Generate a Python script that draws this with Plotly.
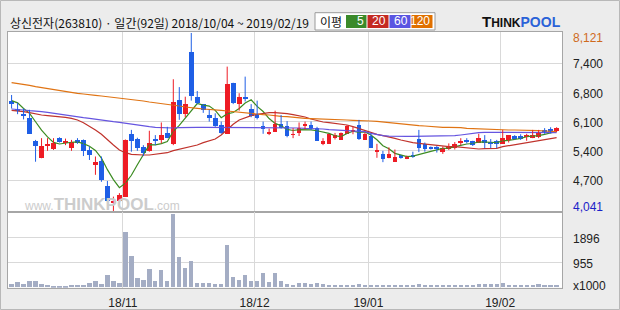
import plotly.graph_objects as go

# ---------------- data ----------------
dates = [
    "2018/10/04", "2018/10/05", "2018/10/08", "2018/10/10", "2018/10/11", "2018/10/12", "2018/10/15",
    "2018/10/16", "2018/10/17", "2018/10/18", "2018/10/19", "2018/10/22", "2018/10/23", "2018/10/24",
    "2018/10/25", "2018/10/26", "2018/10/29", "2018/10/30", "2018/10/31",
    "2018/11/01", "2018/11/02", "2018/11/05", "2018/11/06", "2018/11/07", "2018/11/08", "2018/11/09",
    "2018/11/12", "2018/11/13", "2018/11/14", "2018/11/15", "2018/11/16", "2018/11/19", "2018/11/20",
    "2018/11/21", "2018/11/22", "2018/11/23", "2018/11/26", "2018/11/27", "2018/11/28", "2018/11/29",
    "2018/11/30",
    "2018/12/03", "2018/12/04", "2018/12/05", "2018/12/06", "2018/12/07", "2018/12/10", "2018/12/11",
    "2018/12/12", "2018/12/13", "2018/12/14", "2018/12/17", "2018/12/18", "2018/12/19", "2018/12/20",
    "2018/12/21", "2018/12/24", "2018/12/26", "2018/12/27", "2018/12/28",
    "2019/01/02", "2019/01/03", "2019/01/04", "2019/01/07", "2019/01/08", "2019/01/09", "2019/01/10",
    "2019/01/11", "2019/01/14", "2019/01/15", "2019/01/16", "2019/01/17", "2019/01/18", "2019/01/21",
    "2019/01/22", "2019/01/23", "2019/01/24", "2019/01/25", "2019/01/28", "2019/01/29", "2019/01/30",
    "2019/01/31",
    "2019/02/01", "2019/02/07", "2019/02/08", "2019/02/11", "2019/02/12", "2019/02/13", "2019/02/14",
    "2019/02/15", "2019/02/18", "2019/02/19",
]

opens = [6570, 6380, 6270, 6190, 5650, 5260, 5540, 5470, 5710, 5610,
         5500, 5670, 5670, 5440, 5100, 5190, 4610, 4220, 4280, 4370,
         5820, 5700, 5520, 5420, 5700, 5680, 5840, 5580, 6590, 6260,
         7690, 6660, 6490, 6240, 6190, 6010, 5810, 6980, 6510, 6660,
         6390, 6280, 5990, 5820, 5860, 6050, 5990, 5790, 5840, 6010,
         6030, 5940, 5580, 5580, 5730, 5670, 5820, 5870, 6010, 5680,
         5760, 5400, 5350, 5260, 5180, 5320, 5250, 5340, 5690, 5580,
         5520, 5520, 5400, 5490, 5500, 5620, 5670, 5650, 5610, 5670,
         5630, 5650, 5590, 5680, 5760, 5760, 5760, 5710, 5740, 5910,
         5920, 5870]

highs = [6700, 6520, 6390, 6360, 5670, 5710, 5710, 5710, 5730, 5700,
         5670, 5710, 5680, 5520, 5290, 5290, 4730, 4370, 4450, 5680,
         5900, 5720, 5550, 5880, 5780, 6070, 5970, 7060, 6880, 6660,
         8121, 6790, 6490, 6360, 6280, 6090, 7350, 6980, 6740, 7120,
         6490, 6570, 6090, 5930, 6340, 6240, 6100, 5940, 6070, 6090,
         6090, 5970, 5710, 5810, 5830, 5840, 6010, 5970, 6130, 5840,
         5810, 5580, 5420, 5500, 5450, 5320, 5310, 5400, 5900, 5610,
         5520, 5530, 5520, 5590, 5620, 5710, 5710, 5650, 5810, 5780,
         5690, 5670, 5900, 5780, 5780, 5800, 5810, 5900, 5900, 5940,
         5960, 5960]

lows = [6390, 6260, 6140, 5820, 5170, 5250, 5420, 5440, 5610, 5550,
        5420, 5580, 5300, 5210, 4870, 4710, 4250, 4041, 4180, 4370,
        5400, 5420, 5300, 5400, 5550, 5590, 5710, 5550, 6130, 6190,
        6570, 6490, 6290, 6090, 5970, 5810, 5810, 6490, 6340, 6550,
        6190, 6140, 5810, 5780, 5860, 5930, 5730, 5710, 5760, 5910,
        5900, 5650, 5550, 5580, 5680, 5670, 5820, 5800, 5670, 5670,
        5500, 5260, 5160, 5250, 5180, 5240, 5230, 5260, 5390, 5400,
        5450, 5380, 5350, 5440, 5450, 5550, 5590, 5530, 5610, 5480,
        5480, 5480, 5590, 5610, 5680, 5670, 5650, 5710, 5710, 5810,
        5820, 5850]

closes = [6490, 6350, 6230, 5820, 5540, 5530, 5570, 5610, 5630, 5650,
          5620, 5610, 5420, 5330, 5160, 4750, 4280, 4280, 4410, 5680,
          5650, 5490, 5380, 5610, 5650, 5800, 5730, 6550, 6280, 6490,
          6680, 6520, 6360, 6180, 6000, 5840, 6950, 6520, 6650, 6610,
          6220, 6190, 5930, 5850, 6050, 5960, 5760, 5810, 5950, 6050,
          5940, 5650, 5650, 5810, 5780, 5840, 6000, 5910, 5690, 5820,
          5500, 5440, 5230, 5350, 5290, 5270, 5290, 5300, 5500, 5470,
          5470, 5460, 5490, 5530, 5590, 5650, 5620, 5550, 5710, 5610,
          5590, 5590, 5730, 5780, 5720, 5690, 5800, 5780, 5860, 5860,
          5860, 5950]

volume = [139, 190, 139, 227, 253, 139, 88, 63, 63, 63,
          101, 76, 101, 152, 227, 114, 480, 253, 152, 2109,
          1200, 366, 290, 707, 227, 669, 227, 2791, 1162, 745,
          1010, 177, 152, 152, 114, 114, 1617, 404, 290, 480,
          227, 253, 530, 190, 530, 253, 139, 101, 177, 152,
          126, 152, 114, 101, 101, 101, 101, 101, 139, 101,
          101, 101, 101, 76, 101, 76, 76, 101, 139, 76,
          76, 76, 76, 101, 101, 76, 76, 76, 139, 114,
          114, 114, 177, 76, 76, 101, 76, 101, 139, 101,
          101, 101]

ma5 = [6570, 6520, 6390, 6280, 6086, 5894, 5738, 5614, 5576, 5598,
       5616, 5624, 5586, 5526, 5428, 5254, 4988, 4760, 4576, 4680,
       4860, 5102, 5322, 5562, 5556, 5586, 5634, 5868, 6002, 6170,
       6346, 6504, 6466, 6446, 6348, 6180, 6266, 6298, 6392, 6514,
       6590, 6438, 6320, 6160, 6048, 5996, 5910, 5886, 5906, 5906,
       5902, 5880, 5848, 5820, 5766, 5746, 5816, 5868, 5844, 5852,
       5784, 5672, 5536, 5468, 5362, 5316, 5286, 5300, 5330, 5366,
       5406, 5440, 5478, 5484, 5508, 5544, 5576, 5588, 5624, 5628,
       5616, 5610, 5646, 5660, 5682, 5702, 5744, 5754, 5770, 5798,
       5832, 5862]

ma20 = [6348, 6340, 6317, 6294, 6264, 6241, 6226, 6218, 6203, 6187,
        6164, 6126, 6065, 5989, 5897, 5798, 5668, 5553, 5439, 5377,
        5339, 5324, 5324, 5324, 5339, 5347, 5377, 5423, 5454, 5492,
        5515, 5553, 5607, 5645, 5691, 5782, 5912, 6027, 6126, 6180,
        6226, 6256, 6279, 6294, 6294, 6287, 6271, 6248, 6226, 6195,
        6149, 6111, 6080, 6065, 6050, 6035, 6012, 5973, 5928, 5882,
        5844, 5798, 5767, 5744, 5706, 5668, 5630, 5607, 5591, 5576,
        5553, 5553, 5538, 5515, 5515, 5500, 5492, 5477, 5462, 5469,
        5477, 5477, 5515, 5538, 5561, 5576, 5607, 5630, 5653, 5683,
        5698, 5721]

ma60 = [6378, 6371, 6355, 6340, 6333, 6317, 6302, 6279, 6264, 6241,
        6218, 6203, 6180, 6164, 6141, 6126, 6111, 6088, 6073, 6050,
        6035, 6012, 5989, 5973, 5958, 5950, 5943, 5943, 5950, 5958,
        5958, 5958, 5958, 5958, 5958, 5958, 5958, 5958, 5958, 5958,
        5958, 5958, 5958, 5958, 5958, 5958, 5958, 5958, 5943, 5935,
        5935, 5920, 5920, 5905, 5897, 5897, 5882, 5874, 5866, 5859,
        5821, 5790, 5767, 5759, 5752, 5752, 5752, 5752, 5752, 5752,
        5752, 5752, 5752, 5759, 5767, 5782, 5805, 5828, 5836, 5844,
        5844, 5844, 5844, 5844, 5844, 5844, 5844, 5844, 5844, 5836,
        5836, 5836]

ma120 = [6982, 6967, 6944, 6921, 6890, 6867, 6844, 6814, 6791, 6768,
         6753, 6737, 6722, 6714, 6692, 6676, 6661, 6638, 6623, 6600,
         6585, 6577, 6562, 6539, 6523, 6501, 6485, 6462, 6447, 6424,
         6401, 6394, 6378, 6371, 6355, 6348, 6333, 6317, 6302, 6279,
         6271, 6256, 6248, 6241, 6218, 6210, 6203, 6187, 6180, 6164,
         6157, 6149, 6141, 6134, 6126, 6126, 6126, 6119, 6119, 6103,
         6103, 6096, 6080, 6065, 6050, 6035, 6027, 6012, 5996, 5989,
         5973, 5958, 5958, 5958, 5958, 5950, 5935, 5928, 5920, 5920,
         5912, 5905, 5897, 5897, 5897, 5897, 5897, 5897, 5882, 5874,
         5866, 5859]

month_labels = ["18/11", "18/12", "19/01", "19/02"]
price_grid = [7426, 6756, 6086, 5416, 4746]
price_grid_text = ["7,400", "6,800", "6,100", "5,400", "4,700"]
price_max_label = 8121
price_min_label = 4041
vol_grid = [1896, 955]
vol_grid_text = ["1896", "955"]
title_text = "상신전자(263810) · 일간(92일) 2018/10/04 ~ 2019/02/19"
ma_names = ["5", "20", "60", "120"]

# ---------------- styles ----------------
W, H = 620, 310
RED = "#ee1c25"
BLUE = "#1f5fe6"
VOLC = "#a4adc4"
MA_COLORS = ["#3c8c22", "#c0332c", "#6655e0", "#e07414"]
LEGEND_COLORS = ["#3a8a2a", "#c42a22", "#5a55e2", "#e07000"]
GRID = "#d9d9d9"
FRAME = "#a6a6a6"
BG = "#ececec"
NUMFONT = "Liberation Sans, Arial, sans-serif"
KRFONT = "Noto Sans CJK KR, Noto Sans, sans-serif"


def px(x):
    return x / W


def py(y):
    return 1 - y / H


x = list(range(len(dates)))
xdom = [px(8), px(562)]
price_dom = [py(212.3), py(31.7)]
vol_dom = [py(287.7), py(212.3)]
xr = [-0.6, 91.9]

month_pos = []
for lab in month_labels:
    key = "20" + lab[:2] + "/" + lab[3:]
    first = next(i for i, d in enumerate(dates) if d.startswith(key))
    month_pos.append(first - 0.42)

fig = go.Figure()

# moving averages
for name, vals, col in zip(ma_names, [ma5, ma20, ma60, ma120], MA_COLORS):
    fig.add_trace(go.Scatter(x=x, y=vals, mode="lines", line=dict(color=col, width=1.2),
                             name="MA" + name, xaxis="x", yaxis="y", hoverinfo="skip"))

# candles: wicks then bodies
for up, col in [(True, RED), (False, BLUE)]:
    idx = [i for i in x if (closes[i] >= opens[i]) == up]
    wx, wy = [], []
    for i in idx:
        wx += [i, i, None]
        wy += [lows[i], highs[i], None]
    fig.add_trace(go.Scatter(x=wx, y=wy, mode="lines", line=dict(color=col, width=1),
                             xaxis="x", yaxis="y", hoverinfo="skip"))
    base = [min(opens[i], closes[i]) for i in idx]
    hgt = [max(abs(closes[i] - opens[i]), 22) for i in idx]
    fig.add_trace(go.Bar(x=idx, y=hgt, base=base, width=0.78,
                         marker=dict(color=col, line=dict(width=0)),
                         xaxis="x", yaxis="y", customdata=[dates[i] for i in idx]))

# volume
fig.add_trace(go.Bar(x=x, y=volume, width=0.72, marker=dict(color=VOLC, line=dict(width=0)),
                     xaxis="x2", yaxis="y2", customdata=dates))

axis_common = dict(showline=True, mirror=True, linecolor=FRAME, linewidth=1,
                   zeroline=False, showgrid=True, gridcolor=GRID, gridwidth=1, fixedrange=True)

fig.update_layout(
    width=W, height=H, margin=dict(l=0, r=0, t=0, b=0),
    paper_bgcolor=BG, plot_bgcolor="white", showlegend=False, barmode="overlay",
    bargap=0,
    xaxis=dict(domain=xdom, range=xr, anchor="y", tickvals=month_pos, showticklabels=False,
               ticks="", **axis_common),
    yaxis=dict(domain=price_dom, range=[4011, 8150], anchor="x", tickvals=price_grid,
               showticklabels=False, ticks="", **axis_common),
    xaxis2=dict(domain=xdom, range=xr, anchor="y2", tickvals=month_pos, ticktext=month_labels,
                ticks="outside", ticklen=4, tickcolor=BG,
                tickfont=dict(family=NUMFONT, size=12, color="#222"), **axis_common),
    yaxis2=dict(domain=vol_dom, range=[0, 2858], anchor="x2", tickvals=vol_grid,
                showticklabels=False, ticks="", **axis_common),
)

ann = []
# price axis labels
for v, t in zip(price_grid, price_grid_text):
    ann.append(dict(x=px(571), xref="paper", xanchor="left", y=v, yref="y", yanchor="middle",
                    yshift=-1, text=t, showarrow=False,
                    font=dict(family=NUMFONT, size=12, color="#222")))
ann.append(dict(x=px(571), xref="paper", xanchor="left", y=price_max_label, yref="y",
                yanchor="middle", yshift=-5, text=f"{price_max_label:,}", showarrow=False,
                font=dict(family=NUMFONT, size=12, color="#cf6a1c")))
ann.append(dict(x=px(571), xref="paper", xanchor="left", y=price_min_label, yref="y",
                yanchor="middle", yshift=4, text=f"{price_min_label:,}", showarrow=False,
                font=dict(family=NUMFONT, size=12, color="#1a22c8")))
for v, t in zip(vol_grid, vol_grid_text):
    ann.append(dict(x=px(571), xref="paper", xanchor="left", y=v, yref="y2", yanchor="middle",
                    yshift=-1, text=t, showarrow=False,
                    font=dict(family=NUMFONT, size=12, color="#222")))
ann.append(dict(x=px(571), xref="paper", xanchor="left", y=0, yref="y2", yanchor="middle",
                yshift=2, text="x1000", showarrow=False,
                font=dict(family=NUMFONT, size=12, color="#222")))

# title
ann.append(dict(x=px(8), y=py(22.5), xref="paper", yref="paper", xanchor="left", yanchor="middle",
                text=title_text, showarrow=False, font=dict(family=KRFONT, size=12, color="#111")))

# legend box
shapes = [dict(type="rect", xref="paper", yref="paper", x0=px(315), x1=px(435), y0=py(30), y1=py(12.7),
               line=dict(color="#9a9a9a", width=1), fillcolor="white", layer="above")]
ann.append(dict(x=px(331), y=py(21.5), xref="paper", yref="paper", xanchor="center", yanchor="middle",
                text="이평", showarrow=False, font=dict(family=KRFONT, size=12, color="#111")))
box_x = [(346, 366.5), (367.5, 388.5), (389.5, 410.5), (411.5, 432.5)]
for (a, b), col, name in zip(box_x, LEGEND_COLORS, ma_names):
    shapes.append(dict(type="rect", xref="paper", yref="paper", x0=px(a), x1=px(b), y0=py(28),
                       y1=py(15), line=dict(width=0), fillcolor=col, layer="above"))
    ann.append(dict(x=px(b - 1), y=py(21.5), xref="paper", yref="paper", xanchor="right",
                    yanchor="middle", text=name, showarrow=False,
                    font=dict(family=NUMFONT, size=12, color="white")))

# logo
ann.append(dict(x=px(480), y=py(21.5), xref="paper", yref="paper", xanchor="left", yanchor="middle",
                text=("<b>T<span style='font-size:12px'>HINK</span>"
                      "<span style='font-size:14px;fill:#2a62d8'>POOL</span></b>"),
                showarrow=False, font=dict(family=NUMFONT, size=15, color="#111")))

# watermark
ann.append(dict(x=px(22), y=py(204), xref="paper", yref="paper", xanchor="left", yanchor="middle",
                text="www.<span style='font-size:17px'><b>THINKPOOL</b></span>.com", showarrow=False,
                font=dict(family=NUMFONT, size=12, color="#cccccc")))

# outer frame
shapes.append(dict(type="rect", xref="paper", yref="paper", x0=px(0.5), x1=px(619.5), y0=py(309.5),
                   y1=py(0.5), line=dict(color="#b8b8b8", width=1), layer="above"))

fig.update_layout(annotations=ann, shapes=shapes)

fig.write_html("out.html")
